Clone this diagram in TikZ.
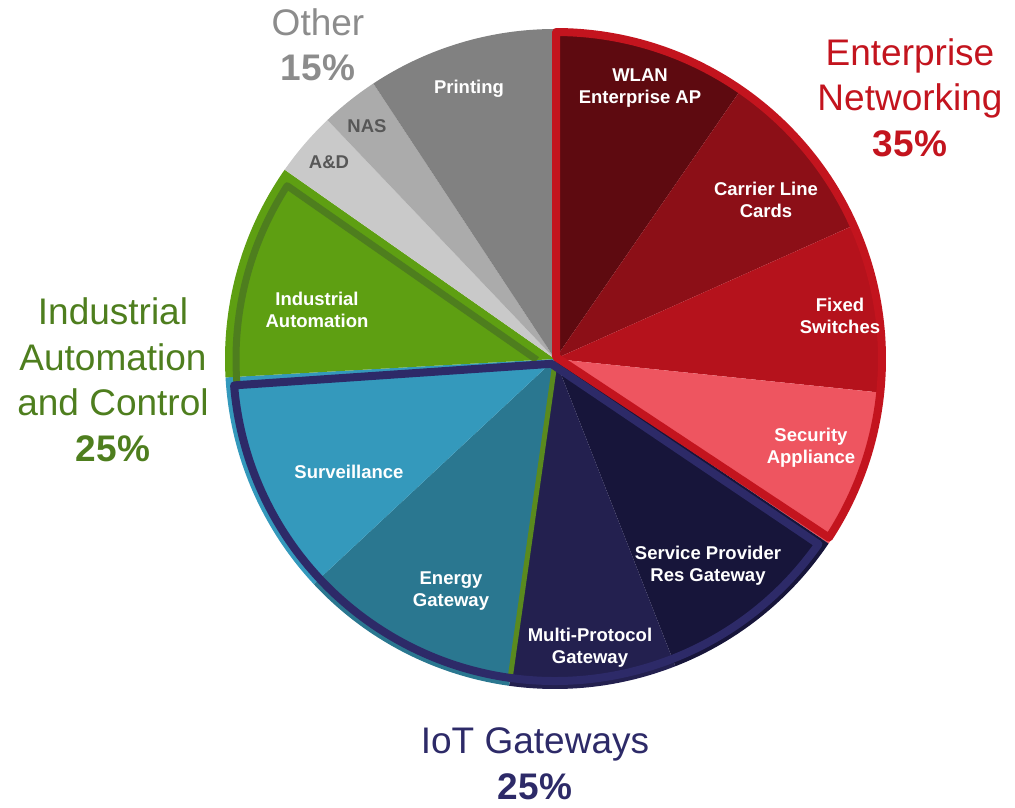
\documentclass[tikz,border=0pt]{standalone}
\usepackage{fontspec}
\setmainfont{Liberation Sans}
\usepackage{tikz}
\usetikzlibrary{positioning}

\definecolor{wlancol}{HTML}{5E0A10}
\definecolor{carriercol}{HTML}{8C0F17}
\definecolor{fixedcol}{HTML}{B5121C}
\definecolor{securitycol}{HTML}{EE5560}
\definecolor{entred}{HTML}{C3141E}
\definecolor{providercol}{HTML}{17153A}
\definecolor{multicol}{HTML}{23204F}
\definecolor{iotnavy}{HTML}{2D2A68}
\definecolor{energycol}{HTML}{2A7790}
\definecolor{surveilcol}{HTML}{3499BC}
\definecolor{industrialcol}{HTML}{5E9F12}
\definecolor{iacgreen}{HTML}{4E7E1E}
\definecolor{iacline}{HTML}{5A8A1E}
\definecolor{adcol}{HTML}{C9C9C9}
\definecolor{nascol}{HTML}{ABABAB}
\definecolor{printcol}{HTML}{818181}
\definecolor{othergray}{HTML}{8C8C8C}
\definecolor{darklabel}{HTML}{575757}

\newcommand{\slicefill}[3]{%
  \fill[#3] (0,0) -- (#1:330) arc[start angle=#1, end angle=#2, radius=330] -- cycle;}

\tikzset{
  slicelabel/.style={text=white, font=\fontsize{18.5}{22}\selectfont\bfseries, align=center, inner sep=0pt},
  greylabel/.style={slicelabel, text=darklabel},
  grouplabel/.style={font=\fontsize{37}{45.5}\selectfont, align=center, inner sep=0pt},
  border/.style={line width=8, line join=round},
}

\begin{document}
\begin{tikzpicture}[x=1pt, y=1pt]
    \useasboundingbox (-555,-449) rectangle (460,359);

    % slices, clockwise from the top
    \slicefill{90}{55.4}{wlancol}
    \slicefill{55.4}{24.1}{carriercol}
    \slicefill{24.1}{-5.9}{fixedcol}
    \slicefill{-5.9}{-34}{securitycol}
    \slicefill{-34}{-68.6}{providercol}
    \slicefill{-68.6}{-98}{multicol}
    \slicefill{-98}{-137}{energycol}
    \slicefill{-137}{-176.8}{surveilcol}
    \slicefill{183.2}{145}{industrialcol}
    \slicefill{145}{133.6}{adcol}
    \slicefill{133.6}{123.4}{nascol}
    \slicefill{123.4}{90}{printcol}

    % group outlines
    \draw[iacline, line width=5] (0,-4) -- (-98:322);
    \draw[iacgreen, line width=7, line join=round] (184.1:319) arc[start angle=184.1, end angle=147.1, radius=319] -- (-18,-1);
    \draw[iotnavy, border] (-3.6,-4.8) -- (-35.1:322) arc[start angle=-35.1, end angle=-175.3, radius=322] -- cycle;
    \draw[entred, border] (1,2) -- (89.8:327) arc[start angle=89.8, end angle=-33.1, radius=327] -- cycle;

    % slice labels
    \node[slicelabel] (wlan) at (85,271) {WLAN\\Enterprise AP};
    \node[slicelabel] (carrier) at (211,159) {Carrier Line\\Cards};
    \node[slicelabel] (fixed) at (285,43) {Fixed\\Switches};
    \node[slicelabel] (security) at (256,-89) {Security\\Appliance};
    \node[slicelabel] (provider) at (153,-207) {Service Provider\\Res Gateway};
    \node[slicelabel] (multi) at (35,-289) {Multi-Protocol\\Gateway};
    \node[slicelabel] (energy) at (-104,-232) {Energy\\Gateway};
    \node[slicelabel] (surveil) at (-206,-113) {Surveillance};
    \node[slicelabel] (industrial) at (-238,49) {Industrial\\Automation};
    \node[greylabel] (ad) at (-226,197) {A\&D};
    \node[greylabel] (nas) at (-188,233) {NAS};
    \node[slicelabel] (printing) at (-86,270) {Printing};

    % group labels
    \node[grouplabel, text=othergray] (other) at (-237,314) {Other\\\textbf{15\%}};
    \node[grouplabel, text=entred] (enterprise) at (355,261.5) {Enterprise\\Networking\\\textbf{35\%}};
    \node[grouplabel, text=iacgreen] (iac) at (-442,-21) {Industrial\\Automation\\and Control\\\textbf{25\%}};
    \node[grouplabel, text=iotnavy] (iot) at (-20,-405) {IoT Gateways\\\textbf{25\%}};
\end{tikzpicture}
\end{document}
